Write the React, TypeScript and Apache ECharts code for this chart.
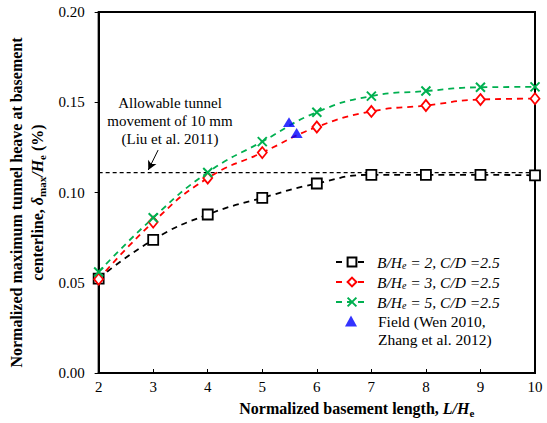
import React, { useEffect, useRef } from "react";
import * as echarts from "echarts";

const lengths = [2, 3, 4, 5, 6, 7, 8, 9, 10];
const seriesB2 = [0.0523, 0.0738, 0.0878, 0.097, 0.105, 0.1098, 0.1098, 0.1098, 0.1095];
const seriesB3 = [0.052, 0.0836, 0.108, 0.1221, 0.1363, 0.1449, 0.1482, 0.1515, 0.152];
const seriesB5 = [0.056, 0.086, 0.1111, 0.1282, 0.1445, 0.1534, 0.1562, 0.1583, 0.1585];
const fieldX = [5.49, 5.63];
const fieldY = [0.139, 0.133];
const allowable = 0.111;
const yTicks = ["0.00", "0.05", "0.10", "0.15", "0.20"];

const FONT = "Liberation Serif, Times New Roman, serif";
const TRI = "path://M5,0L10,9L0,9Z";

export default function App() {
  const ref = useRef<HTMLDivElement>(null);
  useEffect(() => {
    document.body.style.margin = "0";
    const chart = echarts.init(ref.current!, undefined, { renderer: "svg" });
    const pair = (ys: number[]) => lengths.map((x, i) => [x, ys[i]]);
    const legendRich = {
      g: { width: 4, fontSize: 15, fontFamily: FONT, lineHeight: 16 },
      i: { fontStyle: "italic", fontSize: 15.5, fontFamily: FONT, color: "#000", lineHeight: 16 },
      s: { fontStyle: "italic", fontSize: 10, fontFamily: FONT, color: "#000", verticalAlign: "bottom", lineHeight: 10, padding: [6, 0, 0, 0] },
    };
    const names = ["B2", "B3", "B5"];
    const legendFmt: Record<string, string> = {
      B2: "{g| }{i|B/H}{s|e}{i| = 2, C/D =2.5}",
      B3: "{g| }{i|B/H}{s|e}{i| = 3, C/D =2.5}",
      B5: "{g| }{i|B/H}{s|e}{i| = 5, C/D =2.5}",
    };
    const option: any = {
      animation: false,
      textStyle: { fontFamily: FONT },
      grid: {
        left: 97, right: 12, top: 12, bottom: 48,
        show: true, borderColor: "#000", borderWidth: 2,
      },
      legend: [
        {
          data: names,
          orient: "vertical",
          left: 335,
          top: 254,
          padding: 0,
          itemWidth: 32,
          itemHeight: 11,
          itemGap: 4,
          formatter: (n: string) => legendFmt[n],
          textStyle: { fontSize: 15, fontFamily: FONT, color: "#000", rich: legendRich },
        },
        {
          data: ["Field"],
          orient: "vertical",
          left: 345,
          top: 313,
          padding: 0,
          itemWidth: 12,
          itemHeight: 11,
          itemGap: 21,
          symbolKeepAspect: true,
          formatter: () => "Field (Wen 2010,",
          textStyle: { fontSize: 15.5, fontFamily: FONT, color: "#000", padding: [0, 0, 0, 16] },
        },
      ],
      xAxis: {
        type: "value",
        min: 2, max: 10, interval: 1,
        splitLine: { show: false },
        axisLine: { lineStyle: { color: "#000", width: 2 } },
        axisTick: { inside: true, length: 4, lineStyle: { color: "#000" } },
        axisLabel: { color: "#000", fontSize: 15, fontFamily: FONT, margin: 6 },
        name: "{b|Normalized basement length, }{bi|L/H}{bs|e}",
        nameLocation: "middle",
        nameGap: 26,
        nameTextStyle: {
          padding: [0, 0, 0, 80],
          rich: {
            b: { fontWeight: "bold", fontSize: 16, fontFamily: FONT, color: "#000" },
            bi: { fontWeight: "bold", fontStyle: "italic", fontSize: 16, fontFamily: FONT, color: "#000" },
            bs: { fontWeight: "bold", fontSize: 11, fontFamily: FONT, color: "#000", verticalAlign: "bottom", padding: [8, 0, 0, 0] },
          },
        },
      },
      yAxis: {
        type: "value",
        min: 0, max: 0.2, interval: 0.05,
        splitLine: { show: false },
        axisLine: { lineStyle: { color: "#000", width: 2 } },
        axisTick: { inside: false, length: 4, lineStyle: { color: "#000" } },
        axisLabel: {
          color: "#000", fontSize: 15, fontFamily: FONT, margin: 14,
          formatter: (v: number) => yTicks[Math.round(v / 0.05)],
        },
        name: "{b|Normalized maximum tunnel heave at basement}\n{b|centerline, }{bi|δ}{bs|max}{bi|/H}{bs|e}{b| (%)}",
        nameLocation: "middle",
        nameRotate: 90,
        nameGap: 39,
        nameTextStyle: {
          align: "center",
          padding: [0, 20, 0, 0],
          rich: {
            b: { fontWeight: "bold", fontSize: 16, fontFamily: FONT, color: "#000", lineHeight: 21 },
            bi: { fontWeight: "bold", fontStyle: "italic", fontSize: 16, fontFamily: FONT, color: "#000", lineHeight: 21 },
            bs: { fontWeight: "bold", fontSize: 11, fontFamily: FONT, color: "#000", verticalAlign: "bottom", padding: [8, 0, 0, 0] },
          },
        },
      },
      series: [
        {
          name: "ref",
          type: "line",
          data: [[2, allowable], [10, allowable]],
          symbol: "none",
          lineStyle: { color: "#000", width: 1.3, type: [4, 3] },
          silent: true,
          z: 1,
          markLine: {
            silent: true,
            symbol: ["none", "arrow"],
            symbolSize: [7, 9],
            label: { show: false },
            lineStyle: { color: "#000", width: 1, type: "solid" },
            data: [[{ coord: [3.09, 0.1235] }, { coord: [2.91, 0.1125] }]],
          },
        },
        {
          name: "B2",
          type: "line",
          data: pair(seriesB2),
          symbol: "rect",
          symbolSize: 10,
          smooth: true,
          lineStyle: { color: "#000", width: 1.8, type: [6, 5] },
          itemStyle: { color: "#fff", borderColor: "#000", borderWidth: 1.8 },
          z: 3,
        },
        {
          name: "B3",
          type: "line",
          data: pair(seriesB3),
          symbol: "diamond",
          symbolSize: [9, 11],
          smooth: true,
          lineStyle: { color: "#ff0000", width: 1.8, type: [6, 5] },
          itemStyle: { color: "#fff", borderColor: "#ff0000", borderWidth: 1.8 },
          z: 3,
        },
        {
          name: "B5",
          type: "line",
          data: pair(seriesB5),
          symbol: "path://M0,0L10,10M10,0L0,10",
          symbolSize: 9,
          smooth: true,
          lineStyle: { color: "#00b050", width: 1.8, type: [6, 5] },
          itemStyle: { color: "#00b050", borderColor: "#00b050", borderWidth: 2 },
          z: 3,
        },
        {
          name: "Field",
          type: "scatter",
          data: fieldX.map((x, i) => [x, fieldY[i]]),
          symbol: TRI,
          symbolSize: [12, 11],
          symbolKeepAspect: true,
          itemStyle: { color: "#0000ff" },
          z: 4,
        },
      ],
      graphic: [
        {
          type: "text",
          x: 170, y: 103,
          style: { text: "Allowable tunnel", font: `15px ${FONT}`, fill: "#000", align: "center", verticalAlign: "middle" },
        },
        {
          type: "text",
          x: 170, y: 121,
          style: { text: "movement of 10 mm", font: `15px ${FONT}`, fill: "#000", align: "center", verticalAlign: "middle" },
        },
        {
          type: "text",
          x: 170, y: 139,
          style: { text: "(Liu et al. 2011)", font: `15px ${FONT}`, fill: "#000", align: "center", verticalAlign: "middle" },
        },
        {
          type: "text",
          x: 378, y: 339,
          style: { text: "Zhang et al. 2012)", font: `15.5px ${FONT}`, fill: "#000", align: "left", verticalAlign: "middle" },
        },
      ],
    };
    chart.setOption(option);
    return () => chart.dispose();
  }, []);
  return <div ref={ref} style={{ width: 547, height: 423 }} />;
}
